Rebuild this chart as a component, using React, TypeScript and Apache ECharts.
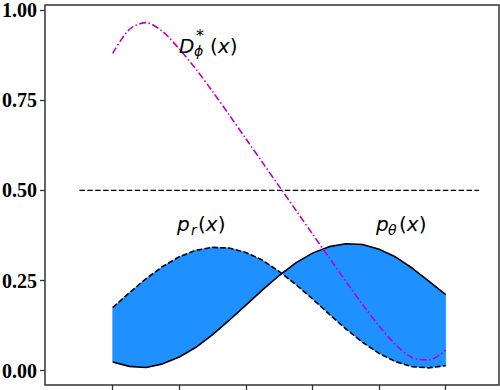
import React, { useEffect, useRef } from "react";
import * as echarts from "echarts";

const X = [0, 0.25, 0.5, 0.75, 1, 1.25, 1.5, 1.75, 2, 2.25, 2.5, 2.75, 3, 3.25, 3.5, 3.75, 4, 4.25, 4.5, 4.75, 5];
const P_R = [0.175, 0.216, 0.255, 0.289, 0.316, 0.334, 0.342, 0.340, 0.328, 0.306, 0.275, 0.239, 0.199, 0.157, 0.116, 0.079, 0.048, 0.025, 0.011, 0.008, 0.014];
const P_THETA = [0.024, 0.012, 0.009, 0.019, 0.038, 0.065, 0.100, 0.140, 0.182, 0.224, 0.264, 0.299, 0.326, 0.344, 0.352, 0.350, 0.337, 0.315, 0.284, 0.248, 0.211];
const D_STAR = [0.880, 0.946, 0.965, 0.940, 0.892, 0.836, 0.774, 0.709, 0.643, 0.577, 0.511, 0.445, 0.379, 0.313, 0.248, 0.184, 0.124, 0.072, 0.036, 0.030, 0.057];
const HLINE_X = [-0.5, 5.5];
const HLINE_Y = [0.5, 0.5];
const Y_TICKS = [0, 0.25, 0.5, 0.75, 1.0];
const X_TICKS = [0, 1, 2, 3, 4, 5];

const pairs = (xs: number[], ys: number[]) => xs.map((x, i) => [x, ys[i]]);

export default function App() {
  const ref = useRef<HTMLDivElement>(null);
  useEffect(() => {
    if (!ref.current) return;
    const chart = echarts.init(ref.current, null, { renderer: "svg" });
    const mathFont = "DejaVu Sans";
    const fs = 20;
    const sfs = 14;
    const txt = (text: string, x: number, baseline: number, size: number, italic: boolean) => ({
      type: "text",
      x,
      y: baseline - 0.35 * size,
      style: {
        text,
        fill: "#000",
        font: `${italic ? "italic " : ""}${size}px '${mathFont}'`,
        verticalAlign: "middle",
        align: "left",
      },
      z: 100,
    });
    const paren = (x: number, baseline: number) => ({
      type: "text",
      x,
      y: baseline - 0.35 * fs,
      style: {
        text: "{n|(}{i|x}{n|)}",
        verticalAlign: "middle",
        align: "left",
        rich: {
          n: { fontFamily: mathFont, fontSize: fs, fill: "#000", color: "#000" },
          i: { fontFamily: mathFont, fontSize: fs, fontStyle: "italic", fill: "#000", color: "#000" },
        },
      },
      z: 100,
    });
    chart.setOption({
      animation: false,
      backgroundColor: "#fff",
      grid: {
        left: 45,
        right: 1,
        top: 5,
        bottom: 5,
        outerBoundsMode: "none",
        show: true,
        borderColor: "#333",
        borderWidth: 1.5,
        backgroundColor: "transparent",
      },
      xAxis: {
        type: "value",
        min: -1.0165,
        max: 5.8,
        axisLine: { show: false, onZero: false },
        splitLine: { show: false },
        axisLabel: { show: false },
        axisTick: {
          show: true,
          length: 5,
          customValues: X_TICKS,
          lineStyle: { color: "#333", width: 1.3 },
        },
      },
      yAxis: {
        type: "value",
        min: -0.0396,
        max: 1.0139,
        axisLine: { show: false, onZero: false },
        splitLine: { show: false },
        axisTick: {
          show: true,
          length: 5,
          customValues: Y_TICKS,
          lineStyle: { color: "#333", width: 1.3 },
        },
        axisLabel: {
          customValues: Y_TICKS,
          margin: 8,
          formatter: (v: number) => v.toFixed(2),
          fontFamily: "Liberation Serif",
          fontWeight: "bold",
          fontSize: 20,
          color: "#000",
        },
      },
      series: [
        {
          type: "custom",
          data: [[0, 0]],
          z: 1,
          renderItem: (_params: any, api: any) => {
            const pts: number[][] = [];
            for (let i = 0; i < X.length; i++) pts.push(api.coord([X[i], P_R[i]]));
            for (let i = X.length - 1; i >= 0; i--) pts.push(api.coord([X[i], P_THETA[i]]));
            return {
              type: "polygon",
              shape: { points: pts },
              style: { fill: "#1E90FF", stroke: "#1E90FF", lineWidth: 0.6 },
            };
          },
        },
        {
          type: "line",
          data: pairs(X, P_R),
          showSymbol: false,
          z: 3,
          lineStyle: { color: "#000", width: 1.6, type: [5.5, 2.4] },
        },
        {
          type: "line",
          data: pairs(X, P_THETA),
          showSymbol: false,
          z: 3,
          lineStyle: { color: "#000", width: 1.6, type: "solid" },
        },
        {
          type: "line",
          data: pairs(HLINE_X, HLINE_Y),
          showSymbol: false,
          z: 3,
          lineStyle: { color: "#000", width: 1.3, type: [5.5, 2.4] },
        },
        {
          type: "line",
          data: pairs(X, D_STAR),
          showSymbol: false,
          smooth: 0.3,
          z: 4,
          lineStyle: { color: "#BF00BF", width: 1.6, type: [7, 2.5, 1.5, 2.5] },
        },
      ],
      graphic: [
        txt("D", 179, 53, fs, true),
        txt("*", 196, 41, 16, false),
        txt("ϕ", 194, 56, sfs, true),
        paren(210, 53),
        txt("p", 177, 231, fs, true),
        txt("r", 191, 235, sfs, true),
        paren(198, 231),
        txt("p", 376, 231, fs, true),
        txt("θ", 388, 235, sfs, true),
        paren(399, 231),
      ],
    });
    return () => chart.dispose();
  }, []);
  return <div ref={ref} style={{ position: "fixed", left: 0, top: 0, width: 500, height: 390 }} />;
}
